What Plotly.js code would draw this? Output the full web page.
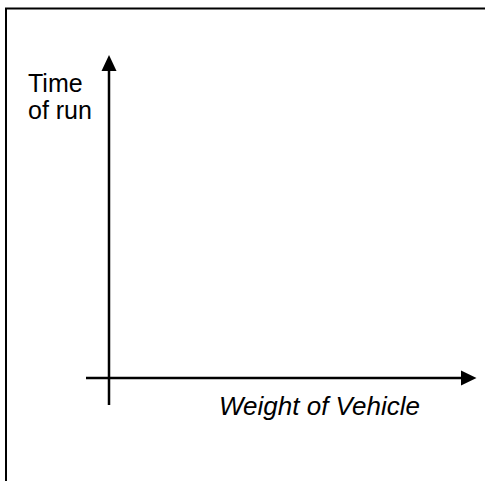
<!DOCTYPE html>
<html>
<head>
<meta charset="utf-8">
<script src="https://cdn.plot.ly/plotly-3.0.1.min.js"></script>
<style>html,body{margin:0;padding:0;background:#fff;}#chart{width:485px;height:481px;}</style>
</head>
<body>
<div id="chart"></div>
<script>
// Labels of the sketch (no numeric data in the reference)
var xAxisLabel = ["Weight of Vehicle"];
var yAxisLabel = ["Time", "of run"];
// Axis arrow endpoints in the sketch coordinate frame (pixel-like units)
var xArrowX = [86, 462];
var xArrowY = [378, 378];
var yArrowX = [109, 109];
var yArrowY = [405, 70];

var traces = [
  {x: xArrowX, y: xArrowY, mode: 'lines', line: {color: '#000', width: 2.5}, hoverinfo: 'skip', showlegend: false},
  {x: yArrowX, y: yArrowY, mode: 'lines', line: {color: '#000', width: 2.5}, hoverinfo: 'skip', showlegend: false}
];

var fnt = 'Liberation Sans, Arial, sans-serif';
var layout = {
  width: 485, height: 481,
  margin: {l: 0, r: 0, t: 0, b: 0},
  paper_bgcolor: '#fff', plot_bgcolor: '#fff',
  showlegend: false,
  xaxis: {range: [0, 485], visible: false, fixedrange: true},
  yaxis: {range: [481, 0], visible: false, fixedrange: true},
  shapes: [
    {type: 'line', xref: 'x', yref: 'y', x0: 5, y0: 8.5, x1: 490, y1: 8.5, line: {color: '#000', width: 2}},
    {type: 'line', xref: 'x', yref: 'y', x0: 6, y0: 8, x1: 6, y1: 490, line: {color: '#000', width: 2}},
    {type: 'path', xref: 'x', yref: 'y', path: 'M461,370.5 L476.5,378 L461,385.5 Z', fillcolor: '#000', line: {color: '#000', width: 0}},
    {type: 'path', xref: 'x', yref: 'y', path: 'M101.5,71 L109,55 L116.5,71 Z', fillcolor: '#000', line: {color: '#000', width: 0}}
  ],
  annotations: [
    {x: 26, y: 67, xref: 'x', yref: 'y', xanchor: 'left', yanchor: 'top', align: 'left', showarrow: false,
     text: yAxisLabel[0], font: {family: fnt, size: 25, color: '#000'}},
    {x: 26, y: 94, xref: 'x', yref: 'y', xanchor: 'left', yanchor: 'top', align: 'left', showarrow: false,
     text: yAxisLabel[1], font: {family: fnt, size: 25, color: '#000'}},
    {x: 217, y: 389, xref: 'x', yref: 'y', xanchor: 'left', yanchor: 'top', align: 'left', showarrow: false,
     text: '<i>' + xAxisLabel[0] + '</i>', font: {family: fnt, size: 26, color: '#000'}}
  ]
};

Plotly.newPlot('chart', traces, layout, {staticPlot: true, displayModeBar: false});
</script>
</body>
</html>
